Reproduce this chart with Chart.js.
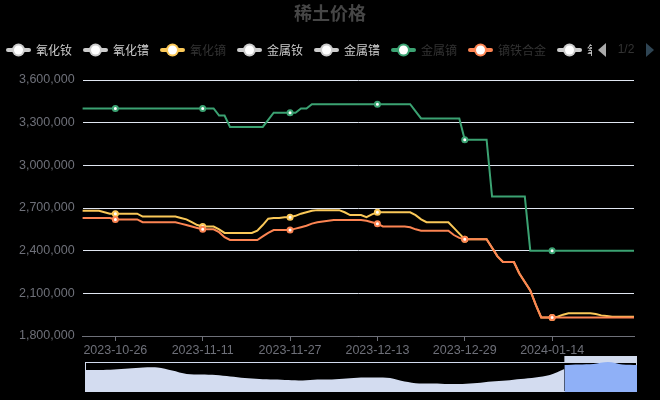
<!DOCTYPE html>
<html>
<head>
<meta charset="utf-8">
<title>稀土价格</title>
<script src="https://cdn.jsdelivr.net/npm/chart.js@4.4.0/dist/chart.umd.min.js"></script>
<style>
    html, body { margin: 0; padding: 0; background: #000; overflow: hidden; }
    #wrap { position: relative; width: 660px; height: 400px; }
    #priceChart { position: absolute; left: 0; top: 0; }
    #zoomChart { position: absolute; left: 85px; top: 356px; }
</style>
</head>
<body>
<div id="wrap">
    <canvas id="priceChart" width="660" height="400"></canvas>
    <canvas id="zoomChart" width="552" height="37"></canvas>
</div>
<script>
const chartTitle = '稀土价格';
const startDate = '2023-10-20';
const dayCount = 102;
const tickLabels = ['2023-10-26', '2023-11-11', '2023-11-27', '2023-12-13', '2023-12-29', '2024-01-14'];
const yMin = 1800000;
const yMax = 3600000;
const yStep = 300000;

// legend (page 1 of 2), only three series are switched on
const legendNames = ['氧化钕', '氧化镨', '氧化镝', '金属钕', '金属镨', '金属镝', '镝铁合金', '氧化铽'];
const legendActive = [false, false, true, false, false, true, true, false];
const palette = ['#5470c6', '#91cc75', '#fac858', '#ee6666', '#73c0de', '#3ba272', '#fc8452', '#9a60b4'];

// 氧化镝
const dyOxide = [
    2680000, 2680000, 2680000, 2680000, 2670000, 2660000, 2660000, 2660000, 2660000, 2660000,
    2660000, 2640000, 2640000, 2640000, 2640000, 2640000, 2640000, 2640000, 2630000, 2620000,
    2600000, 2580000, 2570000, 2570000, 2570000, 2550000, 2525000, 2525000, 2525000, 2525000,
    2525000, 2525000, 2540000, 2580000, 2625000, 2630000, 2630000, 2635000, 2635000, 2645000,
    2660000, 2670000, 2680000, 2685000, 2685000, 2685000, 2685000, 2685000, 2670000, 2650000,
    2650000, 2650000, 2635000, 2655000, 2670000, 2670000, 2670000, 2670000, 2670000, 2670000,
    2670000, 2650000, 2620000, 2600000, 2600000, 2600000, 2600000, 2600000, 2560000, 2520000,
    2480000, 2480000, 2480000, 2480000, 2480000, 2420000, 2360000, 2320000, 2320000, 2320000,
    2240000, 2180000, 2120000, 2020000, 1930000, 1930000, 1930000, 1935000, 1950000, 1960000,
    1960000, 1960000, 1960000, 1960000, 1955000, 1945000, 1940000, 1935000, 1935000, 1935000,
    1935000, 1935000
];

// 金属镝
const dyMetal = [
    3400000, 3400000, 3400000, 3400000, 3400000, 3400000, 3400000, 3400000, 3400000, 3400000,
    3400000, 3400000, 3400000, 3400000, 3400000, 3400000, 3400000, 3400000, 3400000, 3400000,
    3400000, 3400000, 3400000, 3400000, 3400000, 3350000, 3350000, 3270000, 3270000, 3270000,
    3270000, 3270000, 3270000, 3270000, 3320000, 3370000, 3370000, 3370000, 3370000, 3370000,
    3400000, 3400000, 3430000, 3430000, 3430000, 3430000, 3430000, 3430000, 3430000, 3430000,
    3430000, 3430000, 3430000, 3430000, 3430000, 3430000, 3430000, 3430000, 3430000, 3430000,
    3430000, 3380000, 3330000, 3330000, 3330000, 3330000, 3330000, 3330000, 3330000, 3330000,
    3180000, 3180000, 3180000, 3180000, 3180000, 2780000, 2780000, 2780000, 2780000, 2780000,
    2780000, 2780000, 2400000, 2400000, 2400000, 2400000, 2400000, 2400000, 2400000, 2400000,
    2400000, 2400000, 2400000, 2400000, 2400000, 2400000, 2400000, 2400000, 2400000, 2400000,
    2400000, 2400000
];

// 镝铁合金
const dyIron = [
    2630000, 2630000, 2630000, 2630000, 2630000, 2630000, 2620000, 2620000, 2620000, 2620000,
    2620000, 2600000, 2600000, 2600000, 2600000, 2600000, 2600000, 2600000, 2590000, 2580000,
    2570000, 2560000, 2550000, 2550000, 2550000, 2530000, 2495000, 2475000, 2475000, 2475000,
    2475000, 2475000, 2475000, 2500000, 2525000, 2545000, 2545000, 2545000, 2545000, 2555000,
    2565000, 2575000, 2590000, 2600000, 2605000, 2610000, 2615000, 2615000, 2615000, 2615000,
    2615000, 2615000, 2610000, 2600000, 2590000, 2570000, 2570000, 2570000, 2570000, 2570000,
    2565000, 2550000, 2540000, 2540000, 2540000, 2540000, 2540000, 2540000, 2510000, 2490000,
    2480000, 2480000, 2480000, 2480000, 2480000, 2420000, 2360000, 2320000, 2320000, 2320000,
    2240000, 2180000, 2120000, 2020000, 1930000, 1930000, 1930000, 1930000, 1930000, 1930000,
    1930000, 1930000, 1930000, 1930000, 1930000, 1930000, 1930000, 1930000, 1930000, 1930000,
    1930000, 1930000
];

// data-zoom slider: shadow of the full history, selected window at the right end
const zoomShadow = [
    2200000, 2200000, 2250000, 2350000, 2450000, 2450000, 2150000, 1800000, 1750000, 1700000,
    1550000, 1400000, 1300000, 1250000, 1200000, 1150000, 1250000, 1250000, 1350000, 1450000,
    1450000, 1400000, 1050000, 850000, 850000, 800000, 800000, 900000, 1050000, 1150000,
    1300000, 1450000, 1700000, 2300000
];
const zoomSelected = [2700000, 2750000, 2800000, 3000000, 2750000, 2700000];

const dates = [];
for (let i = 0; i < dayCount; i++) {
    const d = new Date(Date.parse(startDate + 'T00:00:00Z') + i * 86400000);
    dates.push(d.toISOString().slice(0, 10));
}

const numFont = '"Liberation Sans", Arial, sans-serif';
const cjkFont = '"Noto Sans CJK SC", "Noto Sans", sans-serif';

function markerRadius(ctx) {
    return tickLabels.includes(dates[ctx.dataIndex]) ? 2.5 : 0;
}

function lineSeries(label, data, color, order) {
    return {
        label: label,
        data: data,
        borderColor: color,
        backgroundColor: color,
        borderWidth: 2,
        tension: 0,
        fill: false,
        order: order,
        pointRadius: markerRadius,
        pointBorderWidth: 2,
        pointBorderColor: color,
        pointBackgroundColor: '#ffffff'
    };
}

// title, legend row and pager
const headerPlugin = {
    id: 'header',
    afterDraw(chart) {
        const ctx = chart.ctx;
        ctx.save();
        ctx.font = 'bold 18px ' + cjkFont;
        ctx.fillStyle = '#464646';
        ctx.textAlign = 'center';
        ctx.textBaseline = 'middle';
        ctx.fillText(chartTitle, chart.width / 2, 13);

        const y = 50;
        ctx.beginPath();
        ctx.rect(0, 30, 592, 40);
        ctx.clip();
        ctx.font = '12px ' + cjkFont;
        ctx.textAlign = 'left';
        let x = 6;
        legendNames.forEach((name, i) => {
            const c = legendActive[i] ? palette[i] : '#cccccc';
            ctx.strokeStyle = c;
            ctx.lineWidth = 4;
            ctx.lineCap = 'round';
            ctx.beginPath();
            ctx.moveTo(x + 2, y);
            ctx.lineTo(x + 23, y);
            ctx.stroke();
            ctx.fillStyle = c;
            ctx.beginPath();
            ctx.arc(x + 12.5, y, 6.5, 0, Math.PI * 2);
            ctx.fill();
            ctx.fillStyle = '#ffffff';
            ctx.beginPath();
            ctx.arc(x + 12.5, y, 4.5, 0, Math.PI * 2);
            ctx.fill();
            ctx.fillStyle = legendActive[i] ? '#333333' : '#cccccc';
            ctx.fillText(name, x + 30, y);
            x += 30 + ctx.measureText(name).width + 11;
        });
        ctx.restore();

        ctx.save();
        ctx.fillStyle = '#aaaaaa';
        ctx.beginPath();
        ctx.moveTo(606, 43);
        ctx.lineTo(606, 57);
        ctx.lineTo(598, 50);
        ctx.closePath();
        ctx.fill();
        ctx.fillStyle = '#333333';
        ctx.font = '12px ' + numFont;
        ctx.textAlign = 'center';
        ctx.textBaseline = 'middle';
        ctx.fillText('1/2', 626, 50);
        ctx.fillStyle = '#2f4554';
        ctx.beginPath();
        ctx.moveTo(646, 43);
        ctx.lineTo(646, 57);
        ctx.lineTo(654, 50);
        ctx.closePath();
        ctx.fill();
        ctx.restore();
    }
};

new Chart(document.getElementById('priceChart'), {
    type: 'line',
    data: {
        labels: dates,
        datasets: [
            lineSeries(legendNames[2], dyOxide, palette[2], 3),
            lineSeries(legendNames[5], dyMetal, palette[5], 2),
            lineSeries(legendNames[6], dyIron, palette[6], 1)
        ]
    },
    options: {
        responsive: false,
        animation: false,
        layout: { padding: { top: 80, right: 26, bottom: 0, left: 0 } },
        plugins: {
            legend: { display: false },
            title: { display: false },
            tooltip: { enabled: false }
        },
        scales: {
            x: {
                afterFit: (s) => { s.height = 64; },
                grid: {
                    display: true,
                    drawOnChartArea: false,
                    drawTicks: true,
                    tickLength: 5,
                    color: '#6e7079'
                },
                border: { display: true, color: '#6e7079' },
                ticks: {
                    autoSkip: false,
                    maxRotation: 0,
                    padding: 2,
                    color: '#6e7079',
                    font: { family: numFont, size: 12.5 },
                    callback: (v, i) => tickLabels.includes(dates[i]) ? dates[i] : null
                }
            },
            y: {
                min: yMin,
                max: yMax,
                afterFit: (s) => { s.width = 82.6; },
                grid: { color: '#e0e6f1', drawTicks: false },
                border: { display: false },
                ticks: {
                    stepSize: yStep,
                    padding: 8,
                    color: '#6e7079',
                    font: { family: numFont, size: 12.5 },
                    callback: (v) => Number(v).toLocaleString('en-US')
                }
            }
        }
    },
    plugins: [headerPlugin]
});

// slider frame and move handle
const sliderPlugin = {
    id: 'sliderFrame',
    beforeDatasetsDraw(chart) {
        const ctx = chart.ctx;
        const area = chart.chartArea;
        const selX = chart.scales.x.getPixelForValue(zoomShadow.length - 1);
        ctx.save();
        ctx.fillStyle = '#d2dbee';
        ctx.fillRect(selX, 0, area.right - selX, area.top);
        ctx.strokeStyle = '#d2dbee';
        ctx.lineWidth = 1;
        ctx.strokeRect(area.left + 0.5, area.top + 0.5, area.width - 1, area.height - 1);
        ctx.restore();
    }
};

const zoomCount = zoomShadow.length + zoomSelected.length - 1;
const zoomIdx = Array.from({ length: zoomCount }, (_, i) => i);

new Chart(document.getElementById('zoomChart'), {
    type: 'line',
    data: {
        labels: zoomIdx,
        datasets: [
            {
                data: zoomIdx.map((i) => i < zoomShadow.length ? zoomShadow[i] : null),
                fill: 'start',
                backgroundColor: '#d3dcf0',
                borderWidth: 0,
                pointRadius: 0,
                tension: 0.3
            },
            {
                data: zoomIdx.map((i) => i >= zoomShadow.length - 1 ? zoomSelected[i - zoomShadow.length + 1] : null),
                fill: 'start',
                backgroundColor: '#8fb0f7',
                borderWidth: 0,
                pointRadius: 0,
                tension: 0.3
            }
        ]
    },
    options: {
        responsive: false,
        animation: false,
        layout: { padding: { top: 6, right: 0, bottom: 1, left: 0 } },
        plugins: {
            legend: { display: false },
            tooltip: { enabled: false }
        },
        scales: {
            x: { display: false },
            y: { display: false, min: 0, max: 3000000 }
        }
    },
    plugins: [sliderPlugin]
});
</script>
</body>
</html>
